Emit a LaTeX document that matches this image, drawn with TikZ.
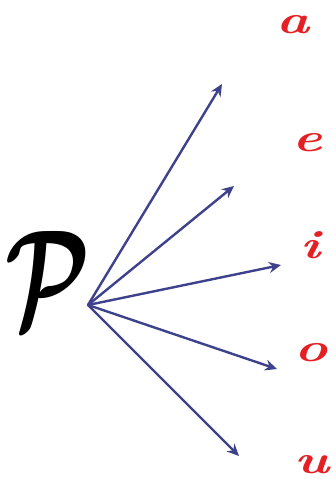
\documentclass[tikz,border=0pt]{standalone}
\usepackage{graphicx}
\usepackage{amsmath}
\usepackage{bm}
\usetikzlibrary{arrows.meta}
\definecolor{arrowblue}{RGB}{62,66,140}
\definecolor{vowelred}{RGB}{228,32,36}
\begin{document}
\begin{tikzpicture}[x=1pt,y=-1pt,
  vowel/.style={text=vowelred, inner sep=0pt},
  ray/.style={arrowblue, line width=2.4pt, line cap=round, -{Stealth[length=12pt,width=11pt]}}]
\useasboundingbox (0,0) rectangle (336,483);
\fill[white] (0,0) rectangle (336,483);
\newcommand{\vw}[1]{\scalebox{1.4}[1]{\fontsize{40}{40}\selectfont\bfseries\itshape #1}}
\node[inner sep=0pt] (P) at (48,279) {\scalebox{9.5}[14]{$\bm{\mathcal{P}}$}};
\coordinate (O) at (88,305);
\coordinate (t1) at (222,84);
\coordinate (t2) at (234,186);
\coordinate (t3) at (281,265);
\coordinate (t4) at (277,369);
\coordinate (t5) at (239,456);
\node[vowel] (a) at (293,25) {\vw{a}};
\node[vowel] (e) at (307,143) {\vw{e}};
\node[vowel] (i) at (310,245) {\vw{i}};
\node[vowel] (o) at (311,353) {\vw{o}};
\node[vowel] (u) at (312,465) {\vw{u}};
\foreach \t in {t1,t2,t3,t4,t5} \draw[ray] (O) -- (\t);
\end{tikzpicture}
\end{document}
